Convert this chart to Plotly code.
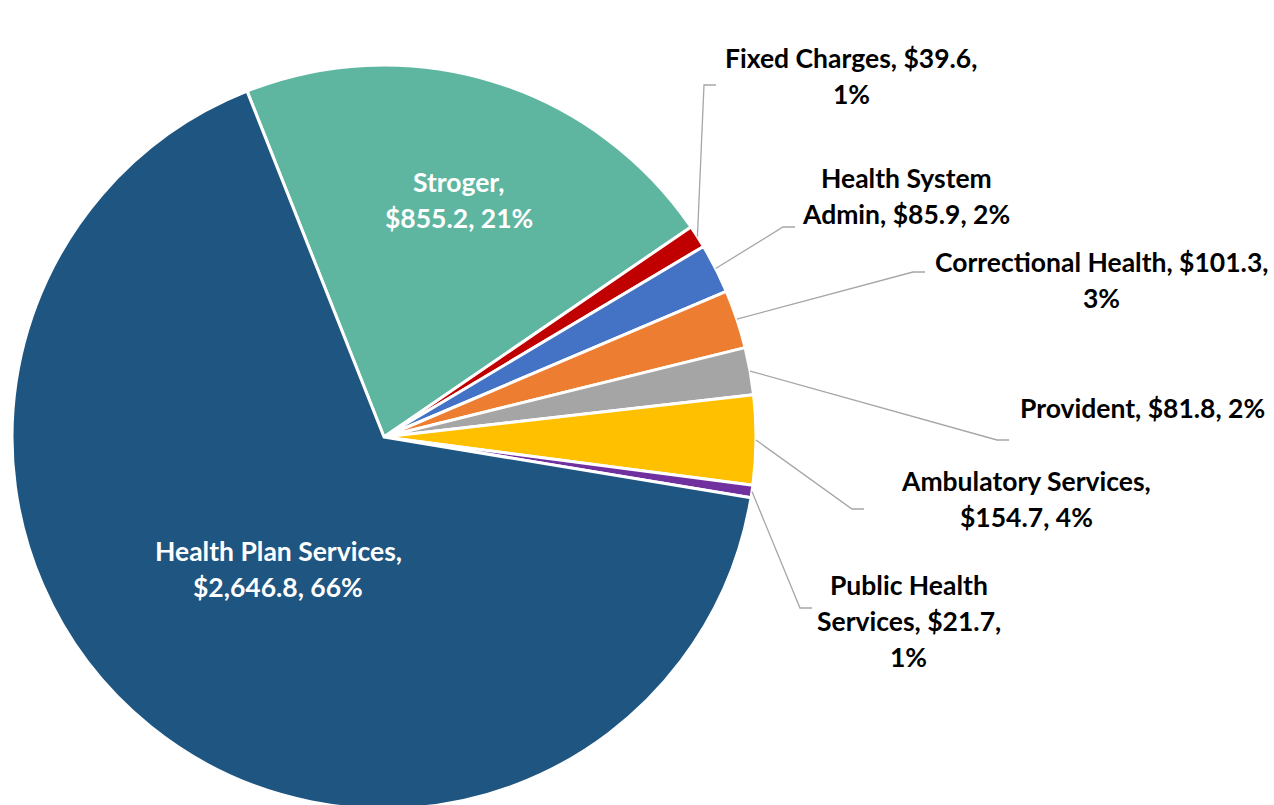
import math
import textwrap
import plotly.graph_objects as go

# FY budget by fund, $ millions (slice order runs clockwise from Stroger)
labels = ["Stroger", "Fixed Charges", "Health System Admin", "Correctional Health",
          "Provident", "Ambulatory Services", "Public Health Services", "Health Plan Services"]
values = [855.2, 39.6, 85.9, 101.3, 81.8, 154.7, 21.7, 2646.8]
colors = ["#5FB6A0", "#C00000", "#4472C4", "#ED7D31",
          "#A5A5A5", "#FFC000", "#7030A0", "#1F5581"]

# figure is a few px taller than the window so the pie runs off the bottom edge
W, H = 1274, 809
rot = -21.6
cx, cy, r = 384, 437, 372  # pie centre / radius in px (follows from domain below)

# label layout: (centre x px, first line y px, wrap width, inside?, elbow x, elbow y)
label_pos = {
    "Stroger": (459, 182, 12, True, None, None),
    "Fixed Charges": (851, 58, 21, False, 704, 85),
    "Health System Admin": (906, 178, 16, False, 783, 227),
    "Correctional Health": (1101, 262, 28, False, 913, 272),
    "Provident": (1142, 408, 30, False, 997, 440),
    "Ambulatory Services": (1026, 481, 20, False, 852, 509),
    "Public Health Services": (909, 585, 16, False, 800, 608),
    "Health Plan Services": (278, 551, 21, True, None, None),
}
line_h = 36


def px(x):
    return x / W


def py(y):
    return 1 - y / H


total = sum(values)
fig = go.Figure()
fig.add_trace(go.Pie(
    labels=labels, values=values, sort=False, direction="clockwise", rotation=rot,
    marker=dict(colors=colors, line=dict(color="white", width=3)),
    textinfo="none", hoverinfo="label+value+percent", showlegend=False,
    domain=dict(x=[(cx - r) / W, (cx + r) / W], y=[0, 2 * r / H]),
))

annotations = []
shapes = []
start = rot
for lab, v in zip(labels, values):
    sweep = v / total * 360
    mid = math.radians(start + sweep / 2)
    start += sweep
    pct = round(v / total * 100)
    text = f"{lab}, ${v:,.1f}, {pct}%"
    x0, y0, wrap, inside, ex, ey = label_pos[lab]
    for i, line in enumerate(textwrap.wrap(text, wrap)):
        annotations.append(dict(
            x=px(x0), y=py(y0 + i * line_h), xref="paper", yref="paper",
            text=f"<b>{line}</b>", showarrow=False, xanchor="center", yanchor="middle",
            font=dict(family="Lato", size=26.5, color="white" if inside else "black"),
        ))
    if not inside:
        sx = cx + r * math.sin(mid)
        sy = cy - r * math.cos(mid)
        path = (f"M {px(sx)},{py(sy)} L {px(ex)},{py(ey)} L {px(ex + 12)},{py(ey)}")
        shapes.append(dict(type="path", path=path, xref="paper", yref="paper",
                           line=dict(color="#A6A6A6", width=1.3)))

fig.update_layout(
    width=W, height=H, margin=dict(l=0, r=0, t=0, b=0),
    paper_bgcolor="white", plot_bgcolor="white",
    annotations=annotations, shapes=shapes,
)
# drop the browser's default body margin so the figure sits at the page corner
fig.write_html("out.html", config={"displayModeBar": False},
               post_script="document.body.style.margin='0';document.body.style.overflow='hidden';")
